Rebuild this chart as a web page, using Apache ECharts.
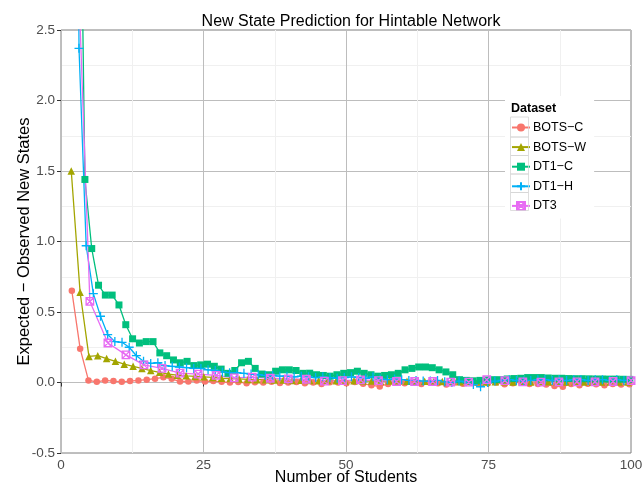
<!DOCTYPE html>
<html>
<head>
<meta charset="utf-8">
<script src="https://cdn.jsdelivr.net/npm/echarts@6/dist/echarts.min.js"></script>
<style>html,body{margin:0;padding:0;background:#fff}#c{width:643px;height:484px}</style>
</head>
<body>
<div id="c"></div>
<script>
// Series names
const names = ['BOTS\u2212C', 'BOTS\u2212W', 'DT1\u2212C', 'DT1\u2212H', 'DT3'];
// x sampling of each dataset (first student position, spacing)
const botsC_x = [1.9, 1.46];
const botsW_x = [1.8, 1.55];
const dt1C_x = [3.0, 1.195];
const dt1H_x = [1.9, 1.258];
const dt3_x = [1.9, 3.165];
// y values (Expected - Observed New States)
const botsC = [0.65, 0.24, 0.015, 0.005, 0.015, 0.01, 0.005, 0.01, 0.015, 0.02, 0.027, 0.037, 0.026, 0.007, 0.007, 0.014, 0.007, 0.01, 0.005, 0.0, 0.003, -0.005, 0.002, 0.0, 0.005, -0.003, 0.0, 0.004, -0.005, 0.0, -0.01, 0.002, 0.0, -0.005, 0.003, -0.008, -0.02, -0.028, -0.01, 0.0, -0.005, 0.003, -0.01, 0.0, -0.005, -0.015, 0.0, -0.008, 0.004, -0.01, -0.005, 0.0, -0.012, -0.005, 0.002, -0.01, -0.01, -0.015, -0.025, -0.03, -0.01, -0.02, -0.008, -0.012, -0.02, -0.01, -0.015, -0.012];
const botsW = [1.5, 0.64, 0.185, 0.19, 0.17, 0.15, 0.13, 0.115, 0.10, 0.085, 0.072, 0.06, 0.052, 0.047, 0.043, 0.04, 0.036, 0.03, 0.028, 0.025, 0.022, 0.02, 0.02, 0.018, 0.017, 0.015, 0.016, 0.014, 0.013, 0.015, 0.012, 0.011, 0.012, 0.01, 0.011, 0.009, 0.01, 0.008, 0.009, 0.007, 0.008, 0.006, 0.007, 0.006, 0.005, 0.007, 0.005, 0.004, 0.006, 0.005, 0.004, 0.005, 0.003, 0.004, 0.005, 0.003, 0.004, 0.003, 0.004, 0.002, 0.003, 0.004, 0.003, 0.003];
const dt1C = [5.0, 1.44, 0.95, 0.69, 0.62, 0.62, 0.55, 0.41, 0.31, 0.28, 0.29, 0.29, 0.21, 0.19, 0.16, 0.14, 0.15, 0.12, 0.125, 0.13, 0.115, 0.095, 0.065, 0.085, 0.14, 0.15, 0.10, 0.06, 0.055, 0.08, 0.09, 0.09, 0.085, 0.065, 0.066, 0.055, 0.05, 0.045, 0.055, 0.065, 0.07, 0.08, 0.065, 0.055, 0.045, 0.05, 0.055, 0.065, 0.09, 0.10, 0.11, 0.11, 0.105, 0.09, 0.075, 0.055, 0.02, 0.015, 0.012, 0.015, 0.018, 0.02, 0.02, 0.025, 0.028, 0.03, 0.035, 0.035, 0.035, 0.032, 0.03, 0.03, 0.028, 0.027, 0.027, 0.026, 0.025, 0.025, 0.024, 0.024, 0.023, 0.022];
const dt1H = [12, 2.37, 0.97, 0.63, 0.47, 0.34, 0.29, 0.285, 0.25, 0.19, 0.15, 0.135, 0.14, 0.12, 0.115, 0.11, 0.105, 0.1, 0.1, 0.09, 0.085, 0.075, 0.07, 0.07, 0.065, 0.06, 0.055, 0.05, 0.05, 0.045, 0.045, 0.04, 0.045, 0.04, 0.035, 0.04, 0.035, 0.03, 0.035, 0.04, 0.035, 0.03, 0.04, 0.025, 0.02, 0.025, 0.02, 0.015, 0.015, 0.01, 0.01, 0.015, 0.005, 0.0, 0.01, 0.005, -0.015, -0.03, 0.0, 0.01, 0.015, 0.02, 0.015, 0.01, 0.015, 0.02, 0.02, 0.015, 0.02, 0.015, 0.02, 0.02, 0.015, 0.02, 0.02, 0.015, 0.02, 0.015, 0.02];
const dt3 = [4.2, 0.575, 0.28, 0.196, 0.125, 0.10, 0.066, 0.06, 0.05, 0.033, 0.038, 0.03, 0.026, 0.023, 0.01, 0.014, 0.019, 0.014, 0.007, 0.007, 0.007, 0.002, 0.002, 0.02, 0.014, 0.005, 0.002, 0.005, 0.005, 0.005, 0.007, 0.014];
// axis ticks
const xTicks = [0, 25, 50, 75, 100];
const yTicks = [-0.5, 0.0, 0.5, 1.0, 1.5, 2.0, 2.5];

const colors = ['#F8766D', '#A3A500', '#00BF7D', '#00B0F6', '#E76BF3'];
const pts = (xs, ys) => ys.map((y, i) => [xs[0] + i * xs[1], y]);

const chart = echarts.init(document.getElementById('c'), null, {renderer: 'canvas'});
const FONT = 'Liberation Sans';

function ser(i, data, symbol, size, hollow) {
  return {
    name: names[i], type: 'line', data: data, symbol: symbol, symbolSize: size,
    showSymbol: true, clip: true, animation: false,
    lineStyle: {color: colors[i], width: 1.3},
    itemStyle: hollow ? {color: 'rgba(0,0,0,0)', borderColor: colors[i], borderWidth: 1.3}
                      : {color: colors[i], borderWidth: 0},
    emphasis: {disabled: true}
  };
}

const keyBoxes = [117, 137, 155.5, 174, 192.5].map((y, i, a) => ({
  type: 'rect', z: 50, silent: true,
  shape: {x: 510.5, y: y, width: 18, height: (i < 4 ? a[i + 1] : 210.5) - y},
  style: {fill: 'none', stroke: '#d6d6d6', lineWidth: 0.8}
}));

chart.setOption({
  animation: false,
  textStyle: {fontFamily: FONT},
  title: {
    text: 'New State Prediction for Hintable Network',
    left: 346, top: 9, textAlign: 'center',
    textStyle: {fontFamily: FONT, fontSize: 16, fontWeight: 'normal', color: '#000'}
  },
  grid: {left: 61, right: 12, top: 30, bottom: 31, show: true, borderColor: '#7f7f7f', borderWidth: 1,
         backgroundColor: '#fff', containLabel: false, outerBoundsMode: 'none'},
  xAxis: {
    type: 'value', min: 0, max: 100, interval: 25,
    name: 'Number of Students', nameLocation: 'middle', nameGap: 25, nameMoveOverlap: false,
    nameTextStyle: {fontFamily: FONT, fontSize: 16, color: '#000', verticalAlign: 'middle'},
    axisLine: {show: false},
    axisTick: {show: true, length: 4, lineStyle: {color: '#333'}},
    axisLabel: {fontFamily: FONT, fontSize: 13.5, color: '#4d4d4d', margin: 5,
      formatter: v => xTicks.includes(v) ? String(v) : ''},
    splitLine: {show: true, lineStyle: {color: '#bdbdbd', width: 1, type: 'solid'}},
    minorTick: {show: false, splitNumber: 2},
    minorSplitLine: {show: true, lineStyle: {color: '#f0f0f0', width: 1, type: 'solid'}}
  },
  yAxis: {
    type: 'value', min: -0.5, max: 2.5, interval: 0.5,
    name: 'Expected \u2212 Observed New States', nameLocation: 'middle', nameGap: 37, nameMoveOverlap: false,
    nameTextStyle: {fontFamily: FONT, fontSize: 16.5, color: '#000', verticalAlign: 'middle'},
    axisLine: {show: false},
    axisTick: {show: true, length: 4, lineStyle: {color: '#333'}},
    axisLabel: {fontFamily: FONT, fontSize: 13.5, color: '#4d4d4d', margin: 6,
      formatter: v => yTicks.some(t => Math.abs(t - v) < 1e-9) ? v.toFixed(1) : ''},
    splitLine: {show: true, lineStyle: {color: '#bdbdbd', width: 1, type: 'solid'}},
    minorTick: {show: false, splitNumber: 2},
    minorSplitLine: {show: true, lineStyle: {color: '#f0f0f0', width: 1, type: 'solid'}}
  },
  legend: {
    orient: 'vertical', left: 505, top: 96,
    itemWidth: 18, itemHeight: 10, itemGap: 6.6,
    padding: [25, 8, 6, 6],
    backgroundColor: '#fff',
    textStyle: {fontFamily: FONT, fontSize: 12.5, color: '#000', lineHeight: 12, padding: [0, 0, 0, -2]},
    data: names.map(n => ({name: n}))
  },
  graphic: [
    {type: 'text', left: 511, top: 102, z: 100,
     style: {text: 'Dataset', font: 'bold 12.5px "Liberation Sans"', fill: '#000'}}
  ].concat(keyBoxes),
  series: [
    ser(0, pts(botsC_x, botsC), 'circle', 6.5, false),
    ser(1, pts(botsW_x, botsW), 'triangle', 7.5, false),
    ser(2, pts(dt1C_x, dt1C), 'rect', 7, false),
    ser(3, pts(dt1H_x, dt1H), 'path://M5,0V10M0,5H10', 9, true),
    ser(4, pts(dt3_x, dt3), 'path://M0,0H10V10H0ZM0,0L10,10M10,0L0,10', 7.5, true)
  ]
});
</script>
</body>
</html>
